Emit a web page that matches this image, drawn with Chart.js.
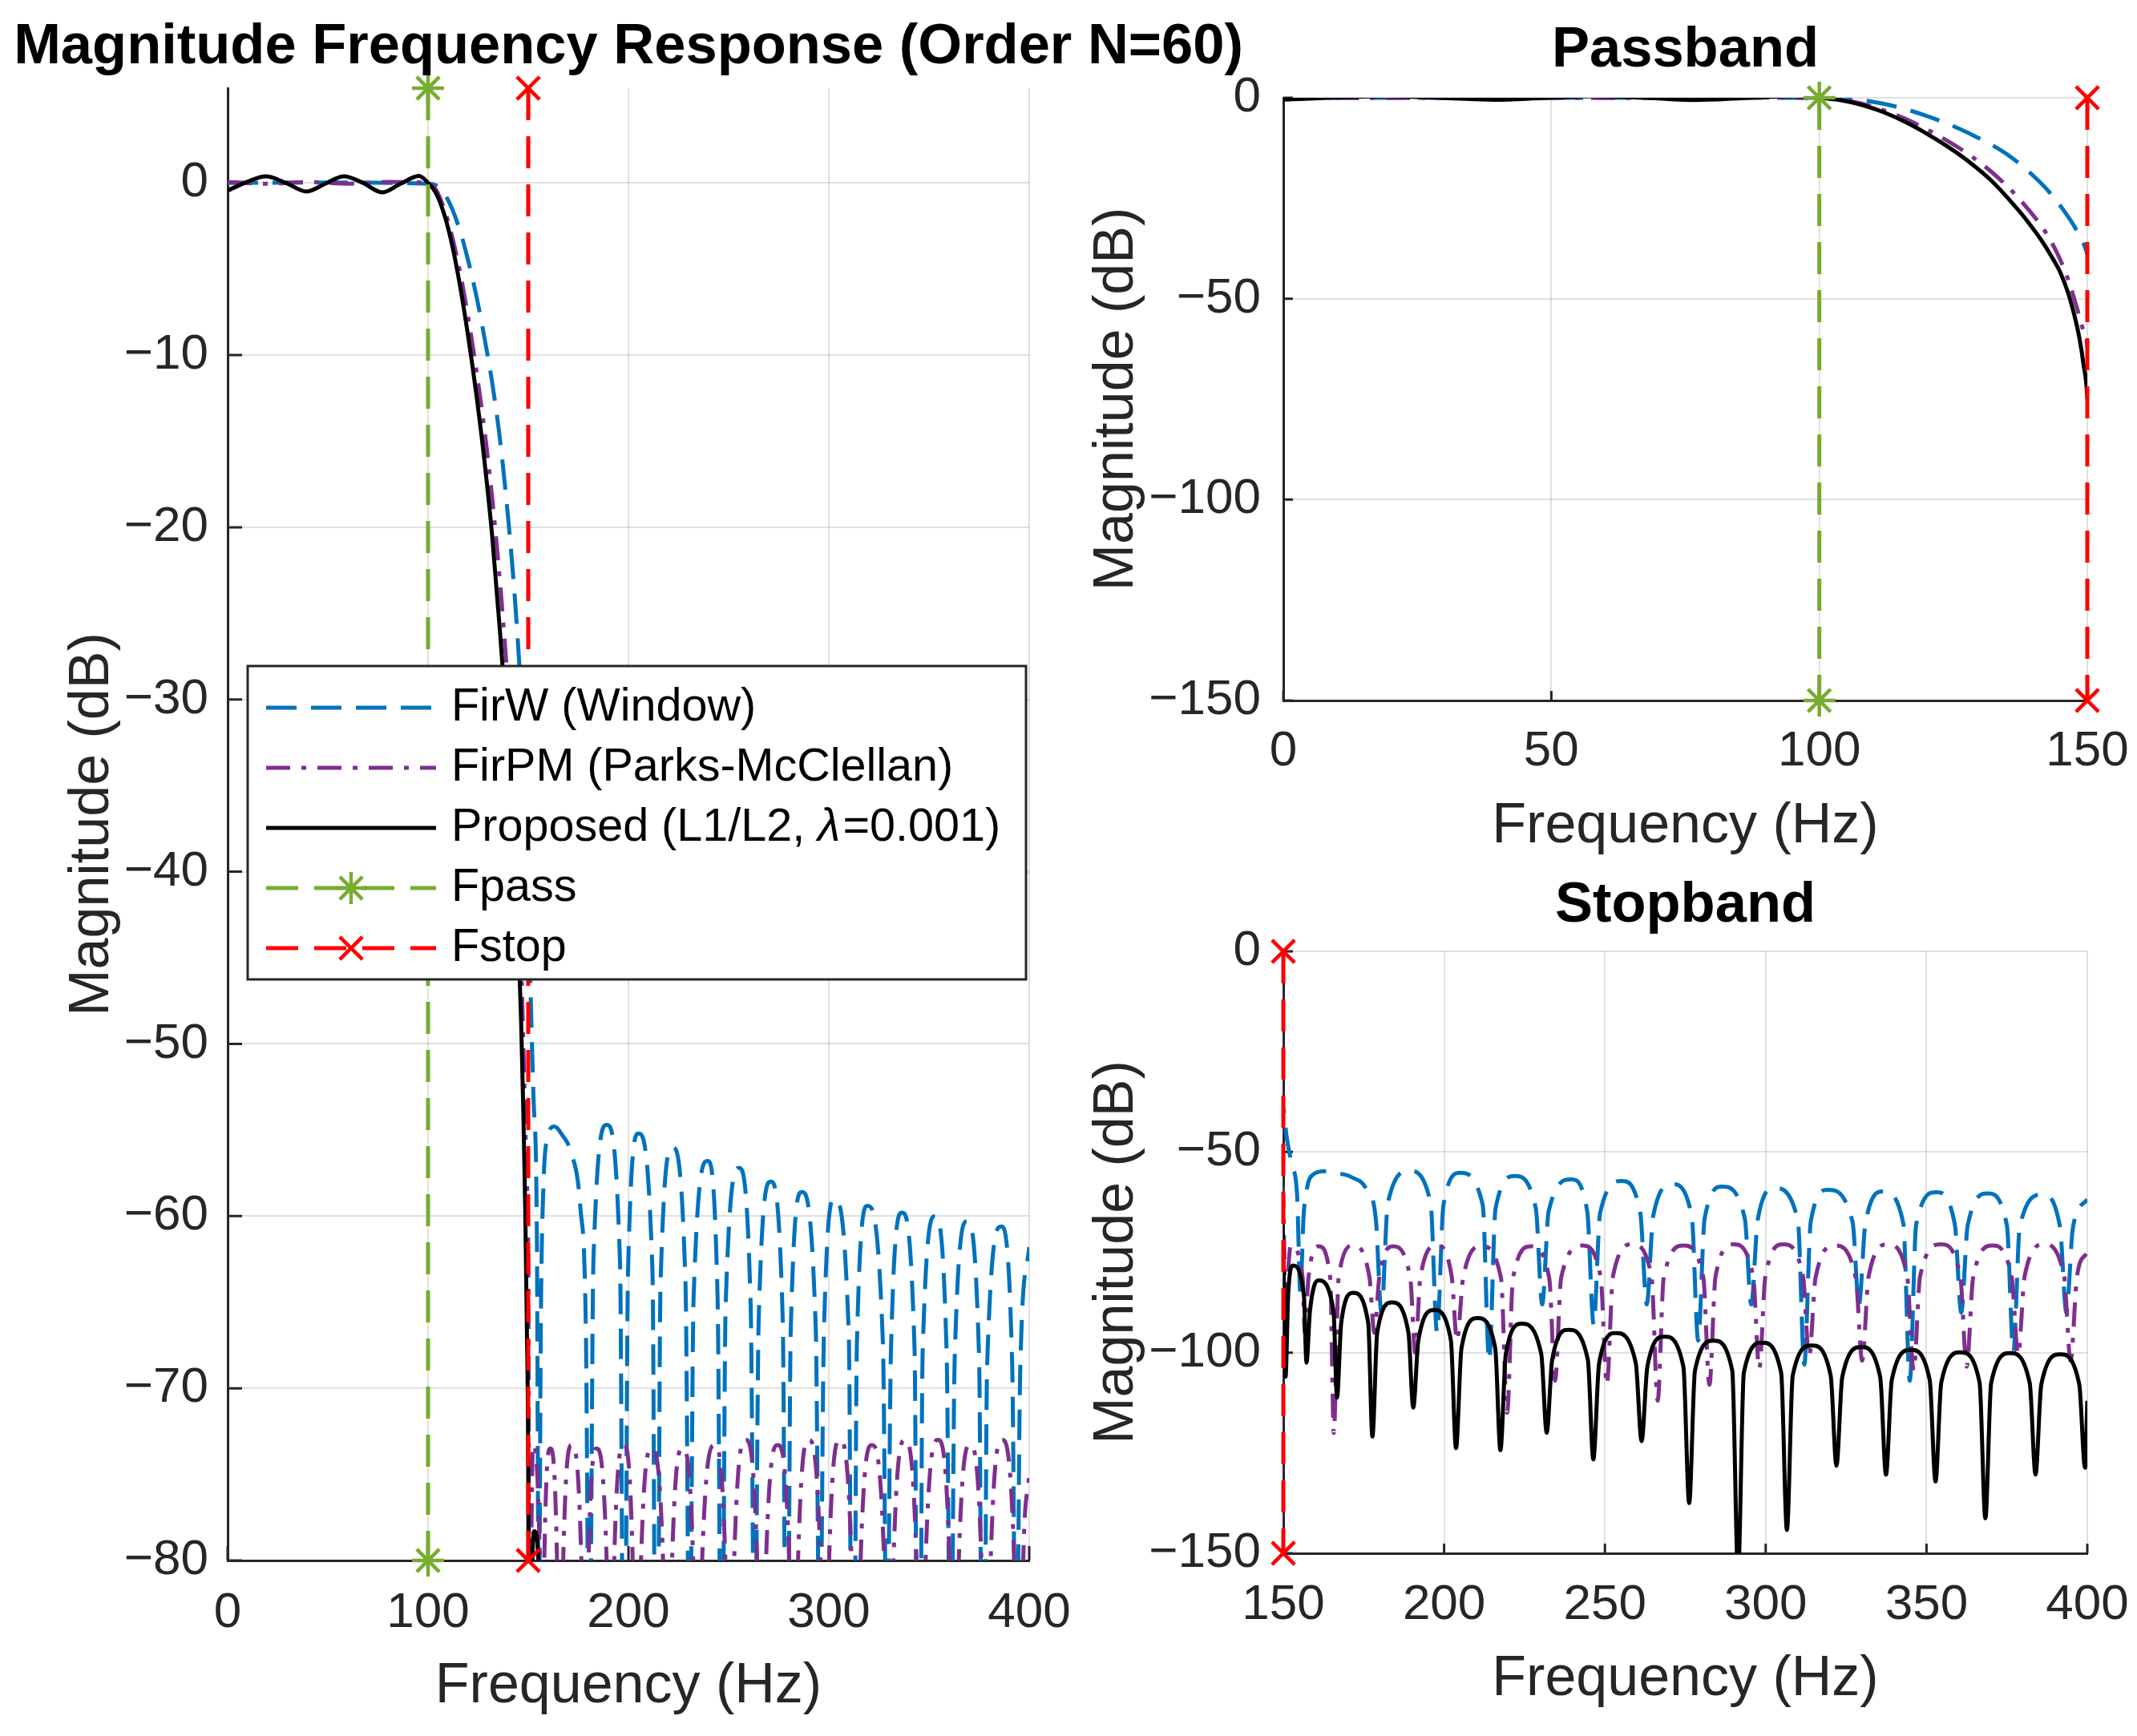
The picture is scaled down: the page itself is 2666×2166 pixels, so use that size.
<!DOCTYPE html>
<html lang="en">
<head>
<meta charset="UTF-8">
<title>Magnitude Frequency Response (Order N=60)</title>
<script src="https://cdn.jsdelivr.net/npm/chart.js"></script>
<style>
    body {
        margin: 0;
        background: #ffffff;
    }

    .panel {
        position: absolute;
    }

    #fullBox { left: 0; top: 0; width: 1650px; height: 2166px; }
    #passBox { left: 1333px; top: 0; width: 1333px; height: 1083px; }
    #stopBox { left: 1333px; top: 1083px; width: 1333px; height: 1083px; }
</style>
</head>
<body>

<div class="panel" id="fullBox"><canvas id="fullChart"></canvas></div>
<div class="panel" id="passBox"><canvas id="passChart"></canvas></div>
<div class="panel" id="stopBox"><canvas id="stopChart"></canvas></div>

<script>
    // band edges (Hz)
    const fpass = 100;
    const fstop = 150;

    // FirW (window method)
    const freqW = [0, 50, 100, 104, 108, 112, 116, 120, 124, 128, 132, 136, 140, 143, 146, 148, 150,
        151, 152.6, 154.3, 155.3, 156.3, 157.5, 159.5, 163, 167, 171, 176, 178.8, 180.5,
        182.5, 189.2, 195.8, 197.8,
        199.8, 205, 212, 214,
        216, 222, 228.5, 230.5,
        232.5, 239.5, 244.5, 246.5,
        248.5, 255.2, 261, 263,
        265, 271, 277, 279,
        281, 286.5, 293.5, 295.5,
        297.5, 302.8, 310, 312,
        314, 319.3, 327, 329,
        331, 336.5, 342.8, 344.8,
        346.8, 353, 358.8, 360.8,
        362.8, 369, 375, 377,
        379, 386, 391.5, 393.5,
        395.5, 400];
    const magW = [0, 0.02, -0.05, -0.15, -0.6, -1.5, -2.8, -4.5, -6.5, -8.9, -11.6, -15, -19.5, -23.6, -28.8, -33, -39,
        -46, -53, -61, -85, -66, -58.5, -55.5, -54.8, -55.3, -56.2, -59.5, -67, -90,
        -62.7, -54.7, -62.7, -95,
        -63.2, -55.2, -63.2, -102,
        -64, -56, -64, -88,
        -64.8, -56.8, -64.8, -93,
        -65.2, -57.2, -65.2, -88,
        -66, -58, -66, -97,
        -66.6, -58.6, -66.6, -88,
        -67, -59, -67, -103,
        -67.4, -59.4, -67.4, -88,
        -67.8, -59.8, -67.8, -107,
        -68, -60, -68, -90,
        -68.3, -60.3, -68.3, -100,
        -68.6, -60.6, -68.6, -90,
        -69, -61.8];

    // FirPM (Parks-McClellan)
    const freqPM = [0, 20, 40, 60, 80, 100, 104, 108, 112, 116, 120, 124, 128, 132, 136, 139, 142, 144.5, 146.5, 148, 149.3, 150,
        150.6, 151.3, 152.3, 156,
        156.7, 157.8, 161, 164.6,
        165.7, 167.2, 171.7, 176.8,
        178.3, 179.8, 184, 189.5,
        191, 192.6, 197.7, 202.4,
        204, 205.9, 211.6, 217.7,
        219.6, 221.4, 227, 232.7,
        234.5, 236.4, 243, 248.7,
        250.6, 252.5, 258.5, 264.5,
        266.4, 268.3, 274.5, 280.6,
        282.5, 284.4, 290, 296.1,
        298, 299.9, 305.5, 311.6,
        313.5, 315.5, 321.5, 328,
        330, 332, 338, 344,
        346, 348, 354.5, 360.5,
        362.5, 364.5, 370.5, 376.5,
        378.5, 380.5, 386.5, 392.8,
        394.8, 396.8, 400];
    const magPM = [0.05, -0.05, 0.05, -0.05, 0.05, 0, -0.4, -1.5, -3.1, -5.2, -7.8, -10.8, -14.2, -18.3, -23.3, -27.8, -33, -39, -45.5, -52, -58, -62,
        -88, -81.3, -73.3, -81.3,
        -95, -81.5, -73.5, -81.5,
        -120, -81.3, -73.3, -81.3,
        -95, -81.5, -73.5, -81.5,
        -100, -81.3, -73.3, -81.3,
        -97, -81.5, -73.5, -81.5,
        -115, -81.5, -73.5, -81.5,
        -107, -81.3, -73.3, -81.3,
        -108, -81, -73, -81,
        -112, -81.3, -73.3, -81.3,
        -108, -81, -73, -81,
        -104, -81, -73, -81,
        -101, -81.3, -73.3, -81.3,
        -102, -81, -73, -81,
        -104.5, -81, -73, -81,
        -103.5, -81.3, -73.3, -81.3,
        -100.5, -81, -73, -81,
        -102, -81, -75];

    // Proposed (L1/L2)
    const freqL = [0, 9.5, 19, 29, 39.4, 48.7, 58, 67.5, 77, 86.3, 95.5, 100,
        104, 108, 112, 116, 120, 124, 128, 132, 136, 139, 141.5, 143.5, 145, 146.5, 147.6, 148.5, 149.3, 150,
        150.7, 151.5, 153, 156.4,
        157.2, 158.3, 160.9, 165.6,
        166.7, 168, 171.7, 176.4,
        177.7, 179.2, 183.8, 188.9,
        190.4, 192, 196.9, 202.1,
        203.7, 205.4, 210.4, 215.9,
        217.5, 219.2, 224.1, 230.2,
        231.9, 233.6, 238.7, 244.7,
        246.4, 248.2, 253.4, 259.6,
        261.4, 263.2, 268.5, 274.4,
        276.2, 278, 283.8, 289.6,
        291.4, 293.2, 298.9, 304.8,
        306.6, 308.4, 314.3, 320.2,
        322, 323.8, 329.7, 335.6,
        337.4, 339.2, 345.1, 351,
        352.8, 354.6, 360.6, 366.5,
        368.3, 370.1, 376, 382.1,
        383.9, 385.7, 391.6, 397.5,
        399.3, 400];
    const magL = [-0.45, 0.05, 0.38, 0, -0.5, -0.05, 0.38, 0, -0.55, -0.05, 0.4, 0,
        -0.6, -1.8, -3.6, -6, -8.9, -12.2, -16, -20.5, -26.2, -31, -35.6, -39.9, -43.6, -48.9, -54.2, -59.6, -66.4, -75,
        -106, -85.8, -78.3, -85.8,
        -102.5, -89.5, -82, -89.5,
        -111.2, -92.6, -85.1, -92.6,
        -120.9, -95, -87.5, -95,
        -113.7, -96.9, -89.4, -96.9,
        -123.8, -98.9, -91.4, -98.9,
        -124.3, -100.3, -92.8, -100.3,
        -120, -101.8, -94.3, -101.8,
        -126.6, -102.6, -95.1, -102.6,
        -122.1, -103.5, -96, -103.5,
        -137.5, -104.5, -97, -104.5,
        -155, -105, -97.5, -105,
        -144.2, -105.7, -98.2, -105.7,
        -128.2, -106.1, -98.6, -106.1,
        -130.4, -106.8, -99.3, -106.8,
        -132.1, -107.4, -99.9, -107.4,
        -141.3, -107.6, -100.1, -107.6,
        -130.4, -107.9, -100.4, -107.9,
        -128.7, -112];

    const seriesNames = ['FirW (Window)', 'FirPM (Parks-McClellan)', 'Proposed (L1/L2, λ=0.001)', 'Fpass', 'Fstop'];

    // axis limits and ticks
    const fullYTop = 5.5;
    const fullYBottom = -80;
    const xTicksFull = [0, 100, 200, 300, 400];
    const yTicksFull = [-80, -70, -60, -50, -40, -30, -20, -10, 0];
    const xTicksPass = [0, 50, 100, 150];
    const xTicksStop = [150, 200, 250, 300, 350, 400];
    const yTicksBand = [-150, -100, -50, 0];

    const FONT = '"Liberation Sans", Arial, sans-serif';
    const INK = '#262626';

    function fmt(v) {
        return v < 0 ? '\u2212' + Math.abs(v) : String(v);
    }

    function pts(xs, ys) {
        return xs.map((x, i) => ({x: x, y: ys[i]}));
    }

    function curveSets() {
        return [
            {label: seriesNames[0], data: pts(freqW, magW), borderColor: '#0072BD', borderDash: [38, 18], order: 5},
            {label: seriesNames[1], data: pts(freqPM, magPM), borderColor: '#7E2F8E', borderDash: [30, 14, 6, 14], order: 4},
            {label: seriesNames[2], data: pts(freqL, magL), borderColor: '#000000', borderDash: [], order: 3}
        ].map(d => Object.assign(d, {
            borderWidth: 5,
            pointRadius: 0,
            fill: false,
            cubicInterpolationMode: 'monotone',
            capBezierPoints: false
        }));
    }

    function edgeSet(label, f, yTop, yBottom, color, marker, order) {
        return {
            label: label,
            data: [{x: f, y: yTop}, {x: f, y: yBottom}],
            borderColor: color,
            borderWidth: 5,
            borderDash: [40, 20],
            pointStyle: marker,
            pointRadius: 20,
            pointBorderColor: color,
            pointBackgroundColor: color,
            pointBorderWidth: 4.5,
            clip: false,
            order: order
        };
    }

    // MATLAB style tick marks pointing into the axes
    const innerTicks = {
        id: 'innerTicks',
        beforeDatasetsDraw(chart, args, opts) {
            const {ctx, chartArea: a, scales: {x, y}} = chart;
            const len = opts.length || 12;
            ctx.save();
            ctx.strokeStyle = INK;
            ctx.lineWidth = 3;
            ctx.setLineDash([]);
            ctx.beginPath();
            x.ticks.forEach(t => {
                const px = x.getPixelForValue(t.value);
                ctx.moveTo(px, a.bottom);
                ctx.lineTo(px, a.bottom - len);
            });
            y.ticks.forEach(t => {
                const py = y.getPixelForValue(t.value);
                ctx.moveTo(a.left, py);
                ctx.lineTo(a.left + len, py);
            });
            ctx.stroke();
            ctx.restore();
        }
    };

    // bold title centred over the plot area (may be wider than the axes)
    const panelTitle = {
        id: 'panelTitle',
        afterDraw(chart, args, opts) {
            const {ctx, chartArea: a} = chart;
            ctx.save();
            ctx.fillStyle = '#000000';
            ctx.font = 'bold 70.5px ' + FONT;
            ctx.textAlign = 'center';
            ctx.textBaseline = 'middle';
            ctx.fillText(opts.text, (a.left + a.right) / 2, opts.y);
            ctx.restore();
        }
    };

    function drawMarker(ctx, style, x, y, r) {
        const angles = style === 'star' ? [0, 45, 90, 135] : [45, 135];
        ctx.beginPath();
        angles.forEach(deg => {
            const rad = deg * Math.PI / 180;
            const dx = Math.cos(rad) * r, dy = Math.sin(rad) * r;
            ctx.moveTo(x - dx, y - dy);
            ctx.lineTo(x + dx, y + dy);
        });
        ctx.stroke();
    }

    // legend box with line samples and markers
    const legendBox = {
        id: 'legendBox',
        afterDraw(chart) {
            const {ctx, chartArea: a} = chart;
            const left = a.left + 25, right = a.right - 4;
            const top = a.top + 721, bottom = a.top + 1112;
            ctx.save();
            ctx.fillStyle = '#ffffff';
            ctx.fillRect(left, top, right - left, bottom - top);
            ctx.strokeStyle = INK;
            ctx.lineWidth = 3;
            ctx.setLineDash([]);
            ctx.strokeRect(left, top, right - left, bottom - top);

            const sets = chart.data.datasets;
            sets.forEach((ds, i) => {
                const rowY = top + 52 + i * 75;
                const x0 = left + 23, x1 = left + 235;
                ctx.strokeStyle = ds.borderColor;
                ctx.lineWidth = ds.borderWidth;
                ctx.setLineDash(ds.borderDash || []);
                ctx.beginPath();
                ctx.moveTo(x0, rowY);
                ctx.lineTo(x1, rowY);
                ctx.stroke();
                if (ds.pointStyle) {
                    ctx.setLineDash([]);
                    ctx.lineWidth = ds.pointBorderWidth;
                    drawMarker(ctx, ds.pointStyle, (x0 + x1) / 2, rowY, ds.pointRadius);
                }

                ctx.fillStyle = '#000000';
                ctx.textBaseline = 'middle';
                ctx.textAlign = 'left';
                let tx = left + 254;
                const parts = ds.label.split('λ');
                parts.forEach((part, k) => {
                    ctx.font = '57.5px ' + FONT;
                    ctx.fillText(part, tx, rowY);
                    tx += ctx.measureText(part).width;
                    if (k < parts.length - 1) {
                        ctx.font = 'italic 57.5px ' + FONT;
                        ctx.fillText('λ', tx, rowY);
                        tx += ctx.measureText('λ').width + 3;
                    }
                });
            });
            ctx.restore();
        }
    };

    function panelOptions(cfg) {
        return {
            responsive: true,
            maintainAspectRatio: false,
            animation: false,
            events: [],
            layout: {padding: {left: 0, right: cfg.padRight, top: cfg.padTop, bottom: 0}},
            plugins: {
                legend: {display: false},
                tooltip: {enabled: false},
                title: {display: false},
                innerTicks: {length: cfg.tickLen},
                panelTitle: {text: cfg.title, y: cfg.titleY}
            },
            scales: {
                x: {
                    type: 'linear',
                    min: cfg.xMin,
                    max: cfg.xMax,
                    afterBuildTicks: s => { s.ticks = cfg.xTicks.map(v => ({value: v})); },
                    afterFit: s => { s.height = cfg.xHeight; s.paddingLeft = 0; s.paddingRight = 0; },
                    ticks: {
                        autoSkip: false, maxRotation: 0, padding: cfg.xTickPad, color: INK,
                        font: {family: FONT, size: 62}, callback: v => fmt(v)
                    },
                    grid: {color: 'rgba(0,0,0,0.12)', lineWidth: 2, drawTicks: false},
                    border: {color: INK, width: 3},
                    title: {
                        display: true, text: 'Frequency (Hz)', color: INK,
                        font: {family: FONT, size: 70}, padding: {top: 0, bottom: cfg.xTitlePad}
                    }
                },
                y: {
                    type: 'linear',
                    min: cfg.yMin,
                    max: cfg.yMax,
                    afterBuildTicks: s => { s.ticks = cfg.yTicks.map(v => ({value: v})); },
                    afterFit: s => { s.width = cfg.yWidth; s.paddingTop = 0; s.paddingBottom = 0; },
                    ticks: {
                        autoSkip: false, padding: cfg.yTickPad, color: INK,
                        font: {family: FONT, size: 62}, callback: v => fmt(v)
                    },
                    grid: {color: 'rgba(0,0,0,0.12)', lineWidth: 2, drawTicks: false},
                    border: {color: INK, width: 3},
                    title: {
                        display: true, text: 'Magnitude (dB)', color: INK,
                        font: {family: FONT, size: 70}, padding: {top: cfg.yTitlePad, bottom: 0}
                    }
                }
            }
        };
    }

    new Chart(document.getElementById('fullChart'), {
        type: 'line',
        data: {
            datasets: curveSets().concat([
                edgeSet(seriesNames[3], fpass, fullYTop, fullYBottom, '#77AC30', 'star', 2),
                edgeSet(seriesNames[4], fstop, fullYTop, fullYBottom, '#FF0000', 'crossRot', 1)
            ])
        },
        options: panelOptions({
            title: 'Magnitude Frequency Response (Order N=60)', titleY: 60, padTop: 110,
            padRight: 366, yWidth: 284, xHeight: 219, tickLen: 18,
            xMin: 0, xMax: 400, xTicks: xTicksFull, yMin: fullYBottom, yMax: fullYTop, yTicks: yTicksFull,
            xTickPad: 29, yTickPad: 24, xTitlePad: 19, yTitlePad: 74
        }),
        plugins: [innerTicks, legendBox, panelTitle]
    });

    new Chart(document.getElementById('passChart'), {
        type: 'line',
        data: {
            datasets: curveSets().concat([
                edgeSet(seriesNames[3], fpass, 0, -150, '#77AC30', 'star', 2),
                edgeSet(seriesNames[4], fstop, 0, -150, '#FF0000', 'crossRot', 1)
            ])
        },
        options: panelOptions({
            title: 'Passband', titleY: 64, padTop: 122,
            padRight: 62, yWidth: 268, xHeight: 209, tickLen: 12,
            xMin: 0, xMax: 150, xTicks: xTicksPass, yMin: -150, yMax: 0, yTicks: yTicksBand,
            xTickPad: 27, yTickPad: 28, xTitlePad: 9, yTitlePad: 19
        }),
        plugins: [innerTicks, panelTitle]
    });

    new Chart(document.getElementById('stopChart'), {
        type: 'line',
        data: {
            datasets: curveSets().concat([
                edgeSet(seriesNames[4], fstop, 0, -150, '#FF0000', 'crossRot', 1)
            ])
        },
        options: panelOptions({
            title: 'Stopband', titleY: 48, padTop: 104,
            padRight: 62, yWidth: 268, xHeight: 228, tickLen: 12,
            xMin: 150, xMax: 400, xTicks: xTicksStop, yMin: -150, yMax: 0, yTicks: yTicksBand,
            xTickPad: 28, yTickPad: 28, xTitlePad: 28, yTitlePad: 19
        }),
        plugins: [innerTicks, panelTitle]
    });
</script>

</body>
</html>
